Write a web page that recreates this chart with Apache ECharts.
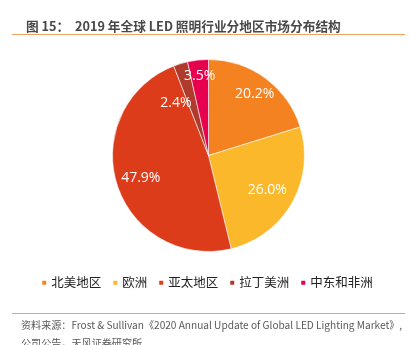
<!DOCTYPE html>
<html><head><meta charset="utf-8">
<script src="https://cdn.jsdelivr.net/npm/echarts@6/dist/echarts.min.js"></script>
<style>html,body{margin:0;padding:0;background:#fff}#c{width:413px;height:345px}</style>
</head><body><div id="c"></div>
<script>
const categories = ['北美地区', '欧洲', '亚太地区', '拉丁美洲', '中东和非洲'];
const shares = [20.2, 26.0, 47.9, 2.4, 3.5];
const titleText = '图 15：  2019 年全球 LED 照明行业分地区市场分布结构';
const sourceLines = ['资料来源：Frost & Sullivan《2020 Annual Update of Global LED Lighting Market》,', '公司公告，天风证券研究所'];

const colors = ['#F58220', '#FBB82B', '#DD3C1B', '#B03A2C', '#E6004E'];
const nudge = {'北美地区':[4,-4], '欧洲':[-3,0], '亚太地区':[0,1], '拉丁美洲':[-12,15], '中东和非洲':[-1,-9]};
const CJK = '"Noto Sans CJK SC", "Noto Sans", sans-serif';

const chart = echarts.init(document.getElementById('c'), null, {renderer:'canvas'});
const mainData = categories.map((n,i)=>({name:n, value:shares[i], itemStyle:{color:colors[i]}}));
const labelData = categories.map((n,i)=>({name:n, value:shares[i], label:{offset:nudge[n]}}));

chart.setOption({
  animation:false,
  color: colors,
  title: {text:titleText, left:21, top:15, textStyle:{fontFamily:CJK, fontSize:12.7, fontWeight:'bold', color:'#484848'}},
  legend: {
    data: categories, bottom: 51, left:'center', itemWidth:6, itemHeight:6, itemGap:10,
    icon:'rect', selectedMode:false,
    textStyle:{fontFamily:CJK, fontSize:12.5, color:'#222', padding:[0,0,0,-1]}
  },
  graphic: [
    {type:'line', shape:{x1:12,y1:34.5,x2:405,y2:34.5}, style:{stroke:'#F0A060', lineWidth:1}},
    {type:'line', shape:{x1:12,y1:313.5,x2:405,y2:313.5}, style:{stroke:'#F5A050', lineWidth:1}},
    {type:'text', left:21, top:320, style:{text:sourceLines[0], font:'10.1px "Noto Sans CJK SC", sans-serif', fill:'#595959'}},
    {type:'text', left:21, top:338, style:{text:sourceLines[1], font:'10.1px "Noto Sans CJK SC", sans-serif', fill:'#595959'}}
  ],
  series: [
    {
      type:'pie', center:[208.5,155.5], radius:[0,96], startAngle:90, clockwise:true,
      silent:true, label:{show:false}, labelLine:{show:false},
      itemStyle:{borderColor:'#fff', borderWidth:0.6},
      data: mainData
    },
    {
      type:'pie', center:[208.5,155.5], radius:[40,96], startAngle:90, clockwise:true,
      silent:true, legendHoverLink:false,
      itemStyle:{color:'rgba(0,0,0,0)', borderWidth:0},
      label:{show:true, position:'inside', formatter:p=>p.value.toFixed(1)+'%', color:'#fff', fontSize:14, fontFamily:'"Open Sans", sans-serif'},
      labelLine:{show:false},
      data: labelData
    }
  ]
});
</script></body></html>
